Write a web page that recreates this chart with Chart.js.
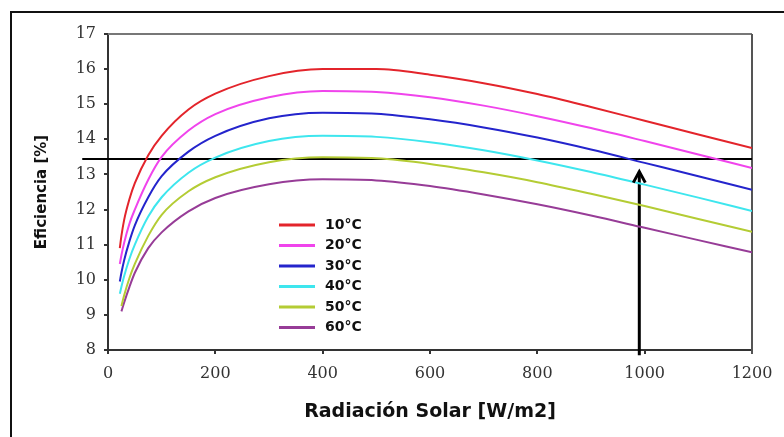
<!DOCTYPE html>
<html>
<head>
<meta charset="utf-8">
<script src="https://cdn.jsdelivr.net/npm/chart.js@4.4.1/dist/chart.umd.min.js"></script>
<style>
  html, body { margin: 0; padding: 0; background: #fff; }
  #wrap { position: relative; width: 784px; height: 437px; }
  #frame { position: absolute; left: 10px; top: 11px; right: 0; bottom: 0; border-top: 2px solid #111; border-left: 2px solid #111; pointer-events: none; }
</style>
</head>
<body>
<div id="wrap">
  <canvas id="effChart" width="784" height="437"></canvas>
  <div id="frame"></div>
</div>
<script>
// Radiacion solar [W/m2] y eficiencia [%] por temperatura
const radiacion = [22, 25, 30, 40, 50, 75, 100, 150, 200, 300, 400, 500, 600, 700, 800, 900, 1000, 1100, 1200];
const ef10 = [10.9, 11.25, 11.7, 12.3, 12.75, 13.55, 14.1, 14.85, 15.3, 15.8, 16.0, 16.0, 15.84, 15.6, 15.29, 14.92, 14.53, 14.14, 13.75];
const ef20 = [10.45, 10.7, 11.05, 11.6, 12.0, 12.85, 13.5, 14.25, 14.72, 15.2, 15.38, 15.35, 15.2, 14.96, 14.66, 14.32, 13.95, 13.57, 13.18];
const ef30 = [9.95, 10.2, 10.55, 11.1, 11.55, 12.35, 12.95, 13.65, 14.1, 14.6, 14.76, 14.73, 14.57, 14.34, 14.05, 13.71, 13.33, 12.95, 12.56];
const ef40 = [9.6, 9.8, 10.1, 10.6, 11.0, 11.8, 12.35, 13.05, 13.48, 13.95, 14.1, 14.07, 13.92, 13.69, 13.4, 13.07, 12.71, 12.34, 11.96];
const ef50 = [null, 9.25, 9.55, 10.05, 10.45, 11.25, 11.85, 12.52, 12.92, 13.35, 13.49, 13.46, 13.3, 13.06, 12.78, 12.45, 12.1, 11.73, 11.37];
const ef60 = [null, 9.1, 9.35, 9.8, 10.2, 10.9, 11.35, 11.95, 12.33, 12.72, 12.86, 12.83, 12.67, 12.43, 12.15, 11.83, 11.48, 11.13, 10.78];

const etiquetas = ['10°C', '20°C', '30°C', '40°C', '50°C', '60°C'];
const colores = ['#e3242b', '#f044ec', '#2424cc', '#3ee6ee', '#b4cc34', '#973c97'];
const series = [ef10, ef20, ef30, ef40, ef50, ef60];

// linea de referencia y flecha
const refX = [-48, 1200];
const refY = [13.44, 13.44];
const flechaX = [990, 990];
const flechaY = [7.85, 13.08];

const datasets = series.map((s, i) => ({
  label: etiquetas[i],
  data: radiacion.map((x, j) => ({ x: x, y: s[j] })),
  borderColor: colores[i],
  borderWidth: 2,
  pointRadius: 0,
  cubicInterpolationMode: 'monotone'
}));
datasets.push({
  label: 'ref',
  data: refX.map((x, j) => ({ x: x, y: refY[j] })),
  borderColor: '#000',
  borderWidth: 2,
  pointRadius: 0,
  clip: false
});
datasets.push({
  label: 'flecha',
  data: flechaX.map((x, j) => ({ x: x, y: flechaY[j] })),
  borderColor: '#000',
  borderWidth: 3,
  pointRadius: 0,
  clip: false
});

// leyenda dentro del area
const leyenda = {
  id: 'leyenda',
  afterDatasetsDraw(chart) {
    const { ctx, chartArea } = chart;
    const x0 = chartArea.left + 171, y0 = chartArea.top + 191, paso = 20.5;
    ctx.save();
    ctx.font = 'bold 14px "DejaVu Sans"';
    ctx.textBaseline = 'middle';
    etiquetas.forEach((t, i) => {
      const y = y0 + i * paso;
      ctx.strokeStyle = colores[i];
      ctx.lineWidth = 3;
      ctx.beginPath();
      ctx.moveTo(x0, y);
      ctx.lineTo(x0 + 36, y);
      ctx.stroke();
      ctx.fillStyle = '#111';
      ctx.fillText(t, x0 + 46, y);
    });
    ctx.restore();
  }
};

// punta de flecha y borde superior/derecho
const extras = {
  id: 'extras',
  beforeDatasetsDraw(chart) {
    const { ctx, chartArea } = chart;
    ctx.save();
    ctx.lineWidth = 2;
    ctx.strokeStyle = '#777';
    ctx.beginPath();
    ctx.moveTo(chartArea.left, chartArea.top);
    ctx.lineTo(chartArea.right, chartArea.top);
    ctx.stroke();
    ctx.strokeStyle = '#555';
    ctx.beginPath();
    ctx.moveTo(chartArea.right, chartArea.top);
    ctx.lineTo(chartArea.right, chartArea.bottom + 4);
    ctx.stroke();
    ctx.restore();
  },
  afterDatasetsDraw(chart) {
    const meta = chart.getDatasetMeta(7);
    const p = meta.data[1];
    const ctx = chart.ctx;
    ctx.save();
    ctx.strokeStyle = '#000';
    ctx.lineWidth = 3;
    ctx.lineJoin = 'miter';
    ctx.beginPath();
    ctx.moveTo(p.x - 6, p.y + 11);
    ctx.lineTo(p.x, p.y);
    ctx.lineTo(p.x + 6, p.y + 11);
    ctx.stroke();
    ctx.restore();
  }
};

new Chart(document.getElementById('effChart'), {
  type: 'line',
  data: { datasets: datasets },
  plugins: [leyenda, extras],
  options: {
    responsive: false,
    animation: false,
    events: [],
    layout: { padding: { top: 34, right: 32, left: 0, bottom: 0 } },
    plugins: { legend: { display: false }, tooltip: { enabled: false } },
    scales: {
      x: {
        type: 'linear',
        min: 0,
        max: 1200,
        afterFit: (s) => { s.height = 87; },
        ticks: { stepSize: 200, padding: 10, color: '#333', font: { family: 'DejaVu Serif', size: 16 }, maxRotation: 0, callback: (v) => String(v) },
        grid: { display: true, drawOnChartArea: false, tickLength: 4, color: '#333', lineWidth: 2 },
        border: { display: true, color: '#333', width: 2 },
        title: { display: true, text: 'Radiación Solar [W/m2]', color: '#111', padding: { top: 0, bottom: 14 }, font: { family: 'DejaVu Sans', size: 19, weight: 'bold' } }
      },
      y: {
        min: 8,
        max: 17,
        afterFit: (s) => { s.width = 108; },
        ticks: { stepSize: 1, padding: 8, color: '#333', font: { family: 'DejaVu Serif', size: 16 } },
        grid: { display: true, drawOnChartArea: false, tickLength: 4, color: '#333', lineWidth: 2 },
        border: { display: true, color: '#333', width: 2 },
        title: { display: true, text: 'Eficiencia [%]', color: '#111', padding: { top: 33, bottom: 0 }, font: { family: 'DejaVu Sans', size: 15, weight: 'bold' } }
      }
    }
  }
});
</script>
</body>
</html>
